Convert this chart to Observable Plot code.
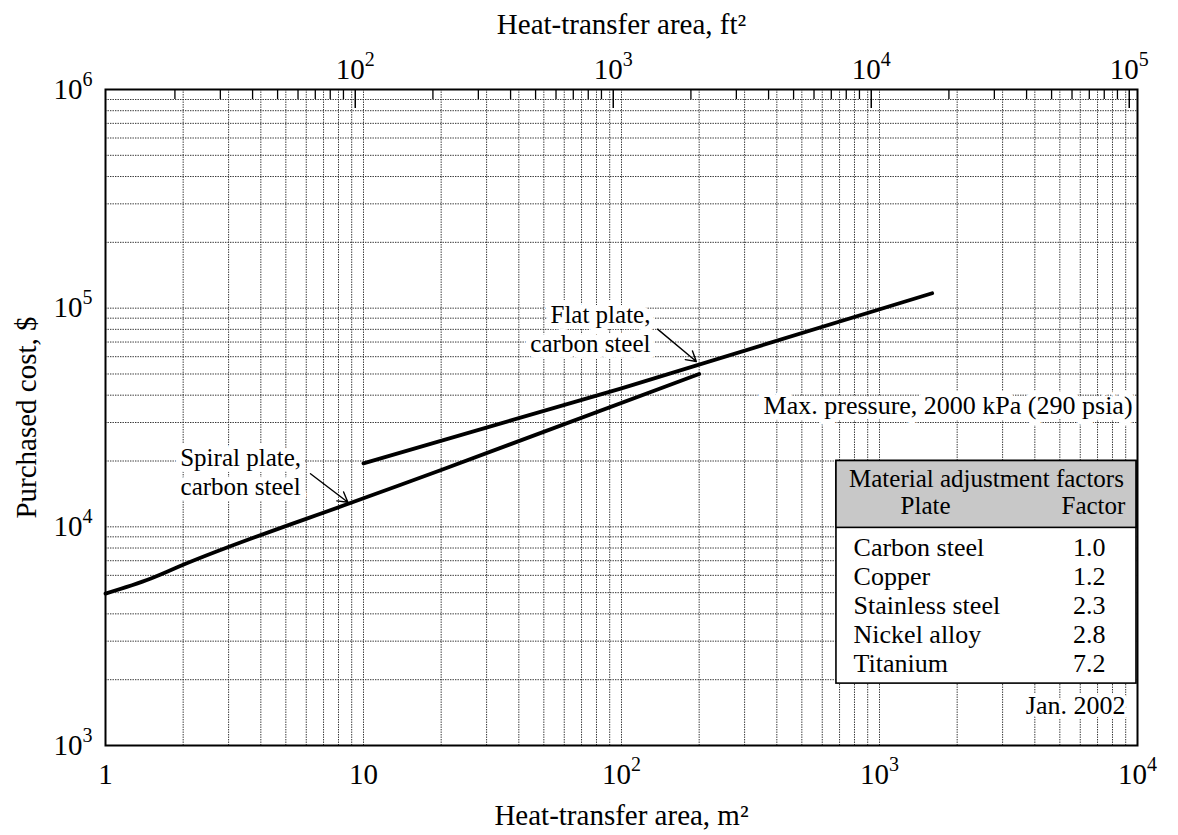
<!DOCTYPE html>
<html>
<head>
<meta charset="utf-8">
<script src="https://cdn.jsdelivr.net/npm/d3@7"></script>
<script src="https://cdn.jsdelivr.net/npm/@observablehq/plot@0.6"></script>
<style>
  html, body { margin: 0; padding: 0; background: #fff; }
  #chart svg { display: block; }
</style>
</head>
<body>
<div id="chart"></div>
<script>
// ---------------- data ----------------
const spiralArea = [1, 1.5, 2, 10, 20, 200];                 // m^2
const spiralCost = [4950, 5800, 6700, 13500, 18200, 50000];  // $
const flatArea = [10, 100, 1600];                            // m^2
const flatCost = [19500, 43000, 117000];                     // $

const materials = ["Carbon steel", "Copper", "Stainless steel", "Nickel alloy", "Titanium"];
const factors = ["1.0", "1.2", "2.3", "2.8", "7.2"];

const xTickValues = [1, 10, 100, 1000, 10000];
const xTickLabels = ["1", "10", "10^2", "10^3", "10^4"];
const yTickValues = [1e3, 1e4, 1e5, 1e6];
const yTickLabels = ["10^3", "10^4", "10^5", "10^6"];
const ftTickValues = [1e2, 1e3, 1e4, 1e5];
const ftTickLabels = ["10^2", "10^3", "10^4", "10^5"];

const xTitle = "Heat-transfer area, m²";
const topTitle = "Heat-transfer area, ft²";
const yTitle = "Purchased cost, $";
const tableTitle = "Material adjustment factors";
const tableHeads = ["Plate", "Factor"];
const noteText = "Max. pressure, 2000 kPa (290 psia)";
const dateText = "Jan. 2002";
const flatLabel = "Flat plate,\ncarbon steel";
const spiralLabel = "Spiral plate,\ncarbon steel";

// ---------------- helpers ----------------
const FT2_PER_M2 = 10.7639;
function multiples(lo, hi, from = 1) {
  const out = [];
  for (let e = lo; e < hi; e++) for (let m = from; m <= 9; m++) out.push(m * 10 ** e);
  return out;
}
const xGrid = [...multiples(0, 4), 1e4];
const yGrid = [...multiples(3, 6), 1e6];
const ftMinor = multiples(1, 5, 2);               // 20 ... 90000 ft^2
const lerpLog = (a, b, t) => 10 ** (Math.log10(a) + t * (Math.log10(b) - Math.log10(a)));

const spiral = spiralArea.map((a, i) => ({a, c: spiralCost[i]}));
const flat = flatArea.map((a, i) => ({a, c: flatCost[i]}));
const ftTicks = ftTickValues.map((v, i) => ({x: v / FT2_PER_M2, label: ftTickLabels[i]}));

// table frame (data space)
const tb = {x1: 681, x2: 9910, top: 20000, head: 9890, bottom: 1919};
const rows = materials.map((m, i) => ({
  m, f: factors[i],
  y: lerpLog(tb.head, tb.bottom, 0.128 + 0.186 * i)
}));

const W = 1178, H = 835, mL = 105, mR = 41, mT = 89, mB = 90;
const plotH = H - mT - mB;
const serif = "Liberation Serif";
const F = {fontFamily: serif, fill: "black"};

const gridStyle = {stroke: "#1e1e1e", strokeWidth: 1, strokeDasharray: "1.4,1.1", strokeOpacity: 0.9};
const halo = {stroke: "white", strokeWidth: 12, paintOrder: "stroke", strokeLinejoin: "round", ...F};

const chart = Plot.plot({
  width: W, height: H,
  marginLeft: mL, marginRight: mR, marginTop: mT, marginBottom: mB,
  style: {fontFamily: serif, fontSize: "29px", background: "white", color: "black"},
  x: {type: "log", domain: [1, 1e4]},
  y: {type: "log", domain: [1e3, 1e6]},
  marks: [
    // grid
    Plot.ruleX(xGrid, gridStyle),
    Plot.ruleY(yGrid, gridStyle),

    // inward ticks of the ft^2 scale along the top edge
    Plot.ruleX(ftMinor, {x: d => d / FT2_PER_M2, insetBottom: plotH - 10, stroke: "black", strokeWidth: 1.3}),
    Plot.ruleX(ftTickValues, {x: d => d / FT2_PER_M2, insetBottom: plotH - 19, stroke: "black", strokeWidth: 1.5}),

    // annotation texts with white background
    Plot.text([noteText], {x: () => 9570, y: () => 35700, text: d => d, textAnchor: "end", fontSize: 26, ...halo}),
    Plot.text([flatLabel], {x: () => 129.5, y: () => 81000, text: d => d, textAnchor: "end", fontSize: 25, lineHeight: 1.15, ...halo}),
    Plot.text([spiralLabel], {x: () => 3.34, y: () => 18000, text: d => d, textAnchor: "middle", fontSize: 25, lineHeight: 1.15, ...halo}),

    // cost curves
    Plot.line(spiral, {x: "a", y: "c", stroke: "black", strokeWidth: 3.8, curve: "monotone-x"}),
    Plot.line(flat, {x: "a", y: "c", stroke: "black", strokeWidth: 3.8}),

    // arrows
    Plot.arrow([0], {x1: () => 138, y1: () => 80200, x2: () => 195, y2: () => 57000, stroke: "black", strokeWidth: 1.4, headLength: 12}),
    Plot.arrow([0], {x1: () => 6.23, y1: () => 17500, x2: () => 8.7, y2: () => 12950, stroke: "black", strokeWidth: 1.4, headLength: 12}),

    // table
    Plot.rect([tb], {x1: "x1", x2: "x2", y1: "bottom", y2: "top", fill: "white", stroke: "black", strokeWidth: 1.6}),
    Plot.rect([tb], {x1: "x1", x2: "x2", y1: "head", y2: "top", fill: "#c8c8c8", stroke: "black", strokeWidth: 1.6}),
    Plot.text([tableTitle], {x: () => lerpLog(tb.x1, tb.x2, 0.5), y: () => lerpLog(tb.top, tb.head, 0.27), text: d => d, fontSize: 25, ...F}),
    Plot.text([tableHeads[0]], {x: () => lerpLog(tb.x1, tb.x2, 0.297), y: () => lerpLog(tb.top, tb.head, 0.68), text: d => d, fontSize: 25, ...F}),
    Plot.text([tableHeads[1]], {x: () => lerpLog(tb.x1, tb.x2, 0.963), y: () => lerpLog(tb.top, tb.head, 0.68), text: d => d, textAnchor: "end", fontSize: 25, ...F}),
    Plot.text(rows, {x: () => lerpLog(tb.x1, tb.x2, 0.057), y: "y", text: "m", textAnchor: "start", fontSize: 26, ...F}),
    Plot.text(rows, {x: () => lerpLog(tb.x1, tb.x2, 0.897), y: "y", text: "f", textAnchor: "end", fontSize: 26, ...F}),
    Plot.text([dateText], {x: () => 8980, y: () => 1524, text: d => d, textAnchor: "end", fontSize: 26, ...halo, strokeWidth: 8}),

    // frame
    Plot.frame({stroke: "black", strokeWidth: 2}),

    // bottom axis (m^2)
    Plot.axisX(xTickValues, {
      anchor: "bottom", tickSize: 0, tickPadding: 18, fontSize: 29, fontFamily: serif,
      tickFormat: d => xTickLabels[xTickValues.indexOf(d)],
      label: xTitle, labelAnchor: "center", labelOffset: 79, labelArrow: "none"
    }),
    // top scale (ft^2) labels and title
    Plot.text(ftTicks, {x: "x", text: "label", frameAnchor: "top", lineAnchor: "middle", dy: -20, fontSize: 29, ...F}),
    Plot.text([topTitle], {frameAnchor: "top", text: d => d, lineAnchor: "middle", dy: -65, fontSize: 29, ...F}),
    // left axis
    Plot.axisY(yTickValues, {
      anchor: "left", tickSize: 0, tickPadding: 13, fontSize: 29, fontFamily: serif,
      tickFormat: d => yTickLabels[yTickValues.indexOf(d)],
      label: yTitle, labelAnchor: "center", labelOffset: 90, labelArrow: "none"
    })
  ]
});

// turn "10^n" labels into 10 with a superscript exponent
const svgNS = "http://www.w3.org/2000/svg";
for (const t of chart.querySelectorAll("text")) {
  if (t.children.length) continue;
  const m = /^10\^(\d+)$/.exec(t.textContent);
  if (!m) continue;
  t.textContent = "10";
  const sup = document.createElementNS(svgNS, "tspan");
  sup.setAttribute("font-size", "20");
  sup.setAttribute("dy", "-13");
  sup.textContent = m[1];
  t.appendChild(sup);
}

document.getElementById("chart").appendChild(chart);
</script>
</body>
</html>
